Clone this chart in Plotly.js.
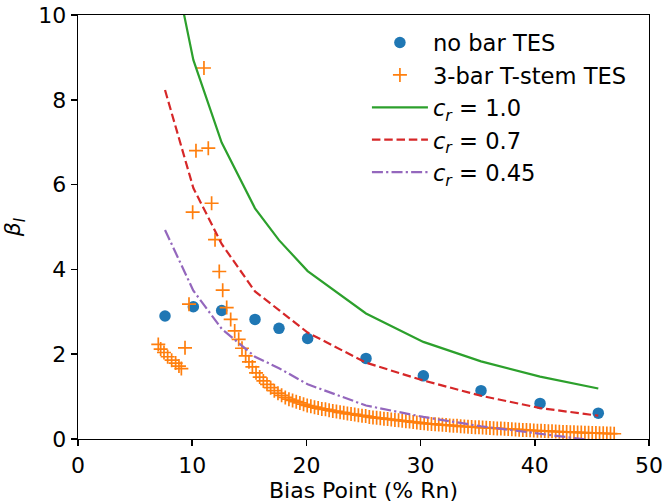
<!DOCTYPE html>
<html>
<head>
<meta charset="utf-8">
<script src="https://cdn.plot.ly/plotly-3.0.1.min.js"></script>
<style>html,body{margin:0;padding:0;background:#fff;}#chart{width:663px;height:504px;}</style>
</head>
<body>
<div id="chart"></div>
<script>
// Bias points (% Rn) for the no-bar TES and model curves
const biasX = [7.62, 10.1, 12.58, 15.5, 17.6, 20.11, 25.22, 30.24, 35.29, 40.46, 45.56];
const noBarBeta = [2.90, 3.12, 3.03, 2.82, 2.61, 2.37, 1.90, 1.49, 1.14, 0.84, 0.61];
const cr10 = [12.2, 8.94, 6.99, 5.44, 4.69, 3.96, 2.96, 2.29, 1.83, 1.47, 1.19];
const cr07 = [8.23, 5.92, 4.60, 3.48, 3.04, 2.51, 1.80, 1.38, 1.02, 0.73, 0.55];
const cr045 = [4.93, 3.50, 2.60, 1.94, 1.67, 1.29, 0.79, 0.52, 0.30, 0.13, -0.05];

// 3-bar T-stem TES sweep
const tStemX = [7.03, 7.24, 7.53, 7.85, 8.2, 8.55, 8.84, 9.05, 9.37, 9.72, 10.04, 10.33, 11.03, 11.41, 11.7, 12.0, 12.37, 12.67,
  13.02, 13.37, 13.72, 14.07, 14.36, 14.68, 14.97, 15.27, 15.59, 15.91, 16.23, 16.55, 16.87, 17.19, 17.51, 17.83, 18.15, 18.47,
  18.79, 19.11, 19.43, 19.75, 20.07, 20.39, 20.71, 21.03, 21.35, 21.67, 21.99, 22.31, 22.63, 22.95, 23.27, 23.59, 23.91, 24.23,
  24.55, 24.87, 25.19, 25.51, 25.83, 26.15, 26.47, 26.79, 27.11, 27.43, 27.75, 28.07, 28.39, 28.71, 29.03, 29.35, 29.67, 29.99,
  30.31, 30.63, 30.95, 31.27, 31.59, 31.91, 32.23, 32.55, 32.87, 33.19, 33.51, 33.83, 34.15, 34.47, 34.79, 35.11, 35.43, 35.75,
  36.07, 36.39, 36.71, 37.03, 37.35, 37.67, 37.99, 38.31, 38.63, 38.95, 39.27, 39.59, 39.91, 40.23, 40.55, 40.87, 41.19, 41.51,
  41.83, 42.15, 42.47, 42.79, 43.11, 43.43, 43.75, 44.07, 44.39, 44.71, 45.03, 45.35, 45.67, 45.99, 46.31, 46.63, 46.95];
const tStemBeta = [2.23, 2.12, 2.04, 1.94, 1.86, 1.79, 1.72, 1.66, 2.15, 3.18, 5.35, 6.80, 8.75, 6.86, 5.56, 4.70, 3.95, 3.51,
  3.10, 2.82, 2.55, 2.35, 2.14, 1.96, 1.82, 1.70, 1.56, 1.46, 1.37, 1.29, 1.21, 1.14, 1.08, 1.03, 0.98, 0.94,
  0.91, 0.88, 0.85, 0.82, 0.79, 0.77, 0.75, 0.73, 0.71, 0.70, 0.68, 0.66, 0.65, 0.63, 0.62, 0.60, 0.59, 0.58,
  0.56, 0.55, 0.54, 0.52, 0.51, 0.50, 0.49, 0.48, 0.47, 0.46, 0.45, 0.44, 0.43, 0.42, 0.41, 0.40, 0.39, 0.38,
  0.37, 0.36, 0.355, 0.35, 0.34, 0.335, 0.33, 0.32, 0.315, 0.31, 0.30, 0.295, 0.29, 0.285, 0.28, 0.275, 0.27, 0.265,
  0.26, 0.255, 0.25, 0.245, 0.24, 0.235, 0.23, 0.225, 0.22, 0.215, 0.21, 0.205, 0.20, 0.196, 0.192, 0.188, 0.184, 0.18,
  0.176, 0.172, 0.168, 0.164, 0.16, 0.157, 0.154, 0.151, 0.148, 0.145, 0.142, 0.139, 0.136, 0.133, 0.13, 0.127, 0.124];

const labels = ['no bar TES', '3-bar T-stem TES',
  '<i>c</i><sub><i>r</i></sub> = 1.0', '<i>c</i><sub><i>r</i></sub> = 0.7', '<i>c</i><sub><i>r</i></sub> = 0.45'];
const xTicks = [0, 10, 20, 30, 40, 50];
const yTicks = [0, 2, 4, 6, 8, 10];

const FONT = 'DejaVu Sans, Liberation Sans, sans-serif';

const traces = [
  {x: biasX, y: noBarBeta, name: labels[0], mode: 'markers', type: 'scatter',
   marker: {color: '#1f77b4', size: 11.5, symbol: 'circle'}, cliponaxis: false},
  {x: tStemX, y: tStemBeta, name: labels[1], mode: 'markers', type: 'scatter',
   marker: {color: '#ff7f0e', size: 10, symbol: 'cross-thin-open', line: {color: '#ff7f0e', width: 1.7}}},
  {x: biasX, y: cr10, name: labels[2], mode: 'lines', type: 'scatter',
   line: {color: '#2ca02c', width: 2.2}},
  {x: biasX, y: cr07, name: labels[3], mode: 'lines', type: 'scatter',
   line: {color: '#d62728', width: 2.2, dash: '8.5px,3.8px'}},
  {x: biasX, y: cr045, name: labels[4], mode: 'lines', type: 'scatter',
   line: {color: '#9467bd', width: 2.2, dash: '11px,3.2px,2.2px,3.2px'}}
];

const layout = {
  width: 663, height: 504,
  margin: {l: 78, r: 14, t: 15, b: 65, pad: 0},
  paper_bgcolor: '#fff', plot_bgcolor: '#fff',
  font: {family: FONT, size: 22, color: '#000'},
  showlegend: true,
  legend: {x: 0.506, y: 0.985, xanchor: 'left', yanchor: 'top', itemwidth: 56,
           bgcolor: 'rgba(0,0,0,0)', borderwidth: 0, font: {family: FONT, size: 22.6, color: '#000'}},
  xaxis: {range: [0, 50], tickvals: xTicks, ticktext: xTicks.map(String),
          showgrid: false, zeroline: false, showline: true, mirror: true,
          linecolor: '#000', linewidth: 1.3, ticks: 'outside', ticklen: 6, tickwidth: 1.5, tickcolor: '#000',
          tickfont: {family: FONT, size: 22, color: '#000'},
          title: {text: 'Bias Point (% Rn)', font: {family: FONT, size: 22, color: '#000'}, standoff: 6}},
  yaxis: {range: [0, 10], tickvals: yTicks, ticktext: yTicks.map(String),
          showgrid: false, zeroline: false, showline: true, mirror: true,
          linecolor: '#000', linewidth: 1.3, ticks: 'outside', ticklen: 6, tickwidth: 1.5, tickcolor: '#000',
          tickfont: {family: FONT, size: 22, color: '#000'},
          title: {text: '<i>β</i><sub><i>I</i></sub>', font: {family: FONT, size: 22, color: '#000'}, standoff: 16}}
};

Plotly.newPlot('chart', traces, layout, {displayModeBar: false, staticPlot: true});
</script>
</body>
</html>
